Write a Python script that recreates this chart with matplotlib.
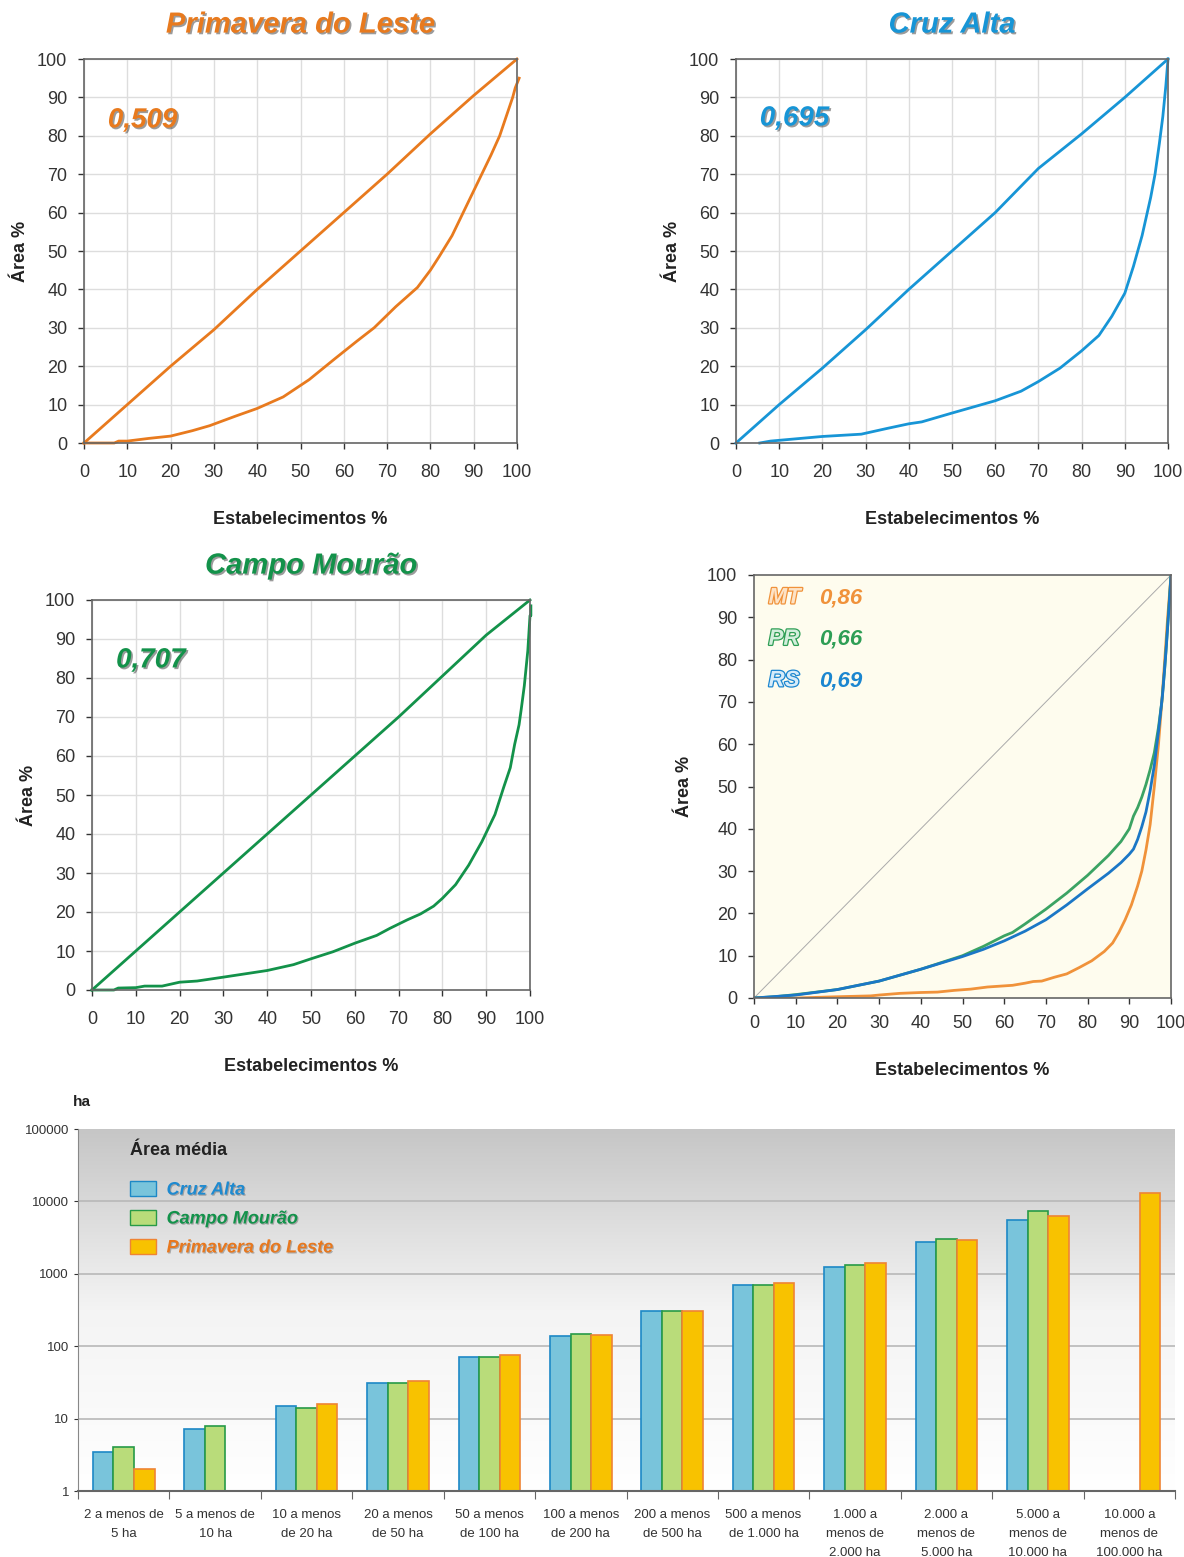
import numpy as np
import matplotlib
matplotlib.use('Agg')
import matplotlib.pyplot as plt
import matplotlib.patheffects as pe
from matplotlib.patches import Patch

plt.rcParams['font.family'] = ['Liberation Sans', 'DejaVu Sans']

# Lorenz curves (x = estabelecimentos %, y = area %)
pl_eq_x = [0, 10, 20, 30, 40, 50, 60, 70, 80, 90, 100]
pl_eq_y = [0, 10, 20, 29.5, 40, 50, 60, 70, 80.5, 90.5, 100]
pl_x = [0, 2, 7, 8, 10, 15, 20, 25, 29, 35, 40, 46, 52, 58, 63, 67, 72, 77, 80, 82, 85, 88, 91,
        94, 96, 97.5, 99, 99.6, 100.5]
pl_y = [0, 0, 0, 0.5, 0.5, 1.2, 1.8, 3.2, 4.5, 7, 9, 12, 16.5, 22, 26.5, 30, 35.5, 40.5, 45,
        48.5, 54, 61, 68, 75, 80, 85, 90, 92.5, 95]

ca_eq_x = [0, 10, 20, 30, 40, 50, 60, 70, 80, 90, 100]
ca_eq_y = [0, 10, 19.5, 29.5, 40, 50, 60, 71.5, 80.5, 90, 100]
ca_x = [5.5, 8, 10, 20, 29, 35, 40, 43, 50, 60, 66, 70, 75, 80, 84, 87, 90, 92, 94, 96, 97,
        98, 98.8, 99.5, 100]
ca_y = [0, 0.5, 0.7, 1.7, 2.3, 3.8, 5, 5.5, 7.8, 11, 13.5, 16, 19.5, 24, 28, 33, 39, 46, 54,
        64, 70, 78, 85, 93, 100]

cm_eq_x = [0, 10, 20, 30, 40, 50, 60, 70, 80, 90, 100]
cm_eq_y = [0, 10, 20, 30, 40, 50, 60, 70, 80.5, 91, 100]
cm_x = [0, 2, 5, 6, 10, 12, 16, 20, 24, 30, 40, 46, 50, 55, 60, 65, 68, 72, 75, 78, 80, 83,
        86, 89, 92, 94, 95.5, 96.5, 97.5, 98, 98.7, 99.5, 100, 100.2, 100.2]
cm_y = [0, 0, 0, 0.5, 0.6, 1, 1, 2, 2.3, 3.3, 5, 6.5, 8, 9.8, 12, 14, 15.8, 18, 19.5, 21.5,
        23.5, 27, 32, 38, 45, 52, 57, 63, 68, 72, 78, 87, 96, 96, 98.5]

mt_x = [0, 10, 20, 28, 30, 35, 40, 44, 48, 52, 56, 62, 65, 67, 69, 72, 75, 78, 81, 84, 86,
        87.5, 89, 90.5, 92, 93, 94, 95, 96, 97, 97.8, 98.5, 99.2, 100]
mt_y = [0, 0, 0.3, 0.5, 0.7, 1.1, 1.3, 1.4, 1.8, 2.1, 2.6, 3, 3.5, 3.9, 4, 4.9, 5.7, 7.2,
        8.8, 11, 13, 15.5, 18.5, 22, 26.5, 30, 35, 41, 50, 60, 70, 80, 90, 100]
pr_x = [0, 5, 10, 20, 30, 40, 50, 55, 60, 62, 65, 70, 75, 80, 85, 88, 90, 91, 92, 93, 94,
        95, 96, 97, 97.8, 98.5, 99.2, 100]
pr_y = [0, 0.3, 0.8, 2, 4, 6.8, 10, 12.2, 14.7, 15.5, 17.5, 21, 24.8, 29, 33.7, 37, 40, 43,
        45, 47.5, 50.5, 54, 58, 64, 70, 78, 88, 100]
rs_x = [0, 10, 20, 30, 40, 50, 55, 60, 65, 70, 75, 80, 85, 88, 90, 91, 92, 93, 94, 95, 96,
        97, 98, 98.8, 99.5, 100]
rs_y = [0, 0.7, 2, 4, 6.8, 9.8, 11.5, 13.5, 15.8, 18.5, 22, 25.8, 29.5, 32, 34, 35.2, 37.5,
        40.5, 44, 49, 55, 63, 72, 82, 92, 100]

# Area media per size class (ha)
classes = ['2 a menos de\n5 ha', '5 a menos de\n10 ha', '10 a menos\nde 20 ha',
           '20 a menos\nde 50 ha', '50 a menos\nde 100 ha', '100 a menos\nde 200 ha',
           '200 a menos\nde 500 ha', '500 a menos\nde 1.000 ha', '1.000 a\nmenos de\n2.000 ha',
           '2.000 a\nmenos de\n5.000 ha', '5.000 a\nmenos de\n10.000 ha',
           '10.000 a\nmenos de\n100.000 ha']
cruz_alta = [3.45, 7.2, 14.9, 31, 70, 138, 305, 700, 1240, 2750, 5550, np.nan]
campo_mourao = [4.05, 7.9, 14.0, 31, 70, 146, 305, 700, 1320, 3030, 7400, np.nan]
primavera = [2.0, np.nan, 15.9, 33, 76, 144, 305, 750, 1410, 2930, 6300, 13000]

W, H = 1184, 1557
fig = plt.figure(figsize=(W / 100, H / 100), dpi=100)


def box(l, t, r, b):
    return [l / W, 1 - b / H, (r - l) / W, (b - t) / H]


def shadow_fx(off=1.2, alpha=0.45):
    return [pe.withSimplePatchShadow(offset=(off, -off), shadow_rgbFace='#222222', alpha=alpha)]


def lorenz_axes(rect, title, color, gini, eq, curve, gx, gy):
    ax = fig.add_axes(rect)
    ax.set_xlim(0, 100)
    ax.set_ylim(0, 100)
    ax.set_xticks(range(0, 101, 10))
    ax.set_yticks(range(0, 101, 10))
    ax.grid(True, color='#dddddd', lw=1)
    ax.set_axisbelow(True)
    for s in ax.spines.values():
        s.set_color('#666666')
        s.set_linewidth(1.2)
    ax.tick_params(labelsize=13, colors='#333333', length=4, width=1, pad=8)
    ax.tick_params(axis='x', pad=11)
    ax.plot(eq[0], eq[1], color=color, lw=2, clip_on=False)
    ax.plot(curve[0], curve[1], color=color, lw=2, clip_on=False)
    ax.set_xlabel('Estabelecimentos %', fontsize=13, fontweight='bold', color='#222222',
                  labelpad=22)
    ax.set_ylabel('Área %', fontsize=13, fontweight='bold', color='#222222', labelpad=6)
    ax.set_title(title, fontsize=21, fontweight='bold', style='italic', color=color, pad=19,
                 path_effects=shadow_fx())
    ax.text(gx, gy, gini, fontsize=20, fontweight='bold', style='italic', color=color,
            va='center', path_effects=shadow_fx())
    return ax


lorenz_axes(box(84, 59, 517, 443), 'Primavera do Leste', '#E87A1E', '0,509',
            (pl_eq_x, pl_eq_y), (pl_x, pl_y), 5.5, 84)
lorenz_axes(box(736, 59, 1168, 443), 'Cruz Alta', '#1795D6', '0,695',
            (ca_eq_x, ca_eq_y), (ca_x, ca_y), 5.5, 84.5)
lorenz_axes(box(92, 600, 530, 990), 'Campo Mourão', '#13924A', '0,707',
            (cm_eq_x, cm_eq_y), (cm_x, cm_y), 5.5, 84.5)

# combined panel
ax4 = fig.add_axes(box(754, 575, 1171, 998))
ax4.set_facecolor('#FEFCEE')
ax4.set_xlim(0, 100)
ax4.set_ylim(0, 100)
ax4.set_xticks(range(0, 101, 10))
ax4.set_yticks(range(0, 101, 10))
for s in ax4.spines.values():
    s.set_color('#666666')
    s.set_linewidth(1.2)
ax4.tick_params(labelsize=13, colors='#333333', length=4, width=1, pad=8)
ax4.plot([0, 100], [0, 100], color='#aaaaaa', lw=0.7)
ax4.plot(mt_x, mt_y, color='#F0923A', lw=2)
ax4.plot(pr_x, pr_y, color='#3BA363', lw=2)
ax4.plot(rs_x, rs_y, color='#1B77C6', lw=2)
ax4.set_xlabel('Estabelecimentos %', fontsize=13, fontweight='bold', color='#222222',
               labelpad=22)
ax4.set_ylabel('Área %', fontsize=13, fontweight='bold', color='#222222', labelpad=10)
for lab, val, col, light, yy in [('MT', '0,86', '#F0923A', '#FDE3C6', 94.6),
                                 ('PR', '0,66', '#2E9E55', '#D3EEDC', 84.8),
                                 ('RS', '0,69', '#1B86D0', '#D6ECFA', 75)]:
    ax4.text(3.5, yy, lab, fontsize=16, fontweight='bold', style='italic', color=light,
             va='center', path_effects=[pe.Stroke(linewidth=1.8, foreground=col), pe.Normal()])
    ax4.text(15.5, yy, val, fontsize=16, fontweight='bold', style='italic', color=col,
             va='center')

# bar chart
axb = fig.add_axes(box(78, 1129, 1175, 1491))
axb.set_yscale('log')
axb.set_ylim(1, 1e5)
axb.set_xlim(0, len(classes))
grad = np.linspace(0, 1, 256).reshape(-1, 1)
axb.imshow(grad, cmap=plt.matplotlib.colors.LinearSegmentedColormap.from_list(
    'g', ['#ffffff', '#f4f4f4', '#c6c6c6']), aspect='auto', extent=[0, 1, 0, 1],
    transform=axb.transAxes, origin='lower', zorder=0)
for v in [10, 100, 1000, 10000]:
    axb.axhline(v, color='#b8b8b8', lw=1.2, zorder=1)
x = np.arange(len(classes)) + 0.5
bw = 0.225
axb.bar(x - bw, cruz_alta, bw, color='#79C4DB', edgecolor='#1D88C6', lw=1.2, zorder=2)
axb.bar(x, campo_mourao, bw, color='#B9DC7A', edgecolor='#279A47', lw=1.2, zorder=2)
axb.bar(x + bw, primavera, bw, color='#F8C200', edgecolor='#EF8434', lw=1.2, zorder=2)
axb.set_ylim(1, 1e5)
axb.set_yticks([1, 10, 100, 1000, 10000, 100000])
axb.set_yticklabels(['1', '10', '100', '1000', '10000', '100000'])
axb.yaxis.set_minor_locator(matplotlib.ticker.NullLocator())
axb.set_xticks(np.arange(len(classes) + 1))
axb.set_xticklabels([])
axb.set_xticks(x, minor=True)
axb.set_xticklabels(classes, minor=True, fontsize=9.5, color='#333333', linespacing=1.75)
axb.tick_params(axis='x', which='minor', length=0, pad=13)
axb.tick_params(axis='x', which='major', length=6, color='#666666')
axb.tick_params(axis='y', labelsize=9.5, colors='#333333', length=3)
for side in ['top', 'right']:
    axb.spines[side].set_visible(False)
axb.spines['left'].set_color('#888888')
axb.spines['bottom'].set_color('#666666')
axb.spines['bottom'].set_linewidth(1.5)
fig.text(73 / W, 1 - 1102 / H, 'ha', fontsize=11, fontweight='bold', color='#222222',
         va='center')

handles = [Patch(facecolor='#79C4DB', edgecolor='#1D88C6'),
           Patch(facecolor='#B9DC7A', edgecolor='#279A47'),
           Patch(facecolor='#F8C200', edgecolor='#EF8434')]
leg = axb.legend(handles, ['Cruz Alta', 'Campo Mourão', 'Primavera do Leste'],
                 loc='upper left', bbox_to_anchor=(0.033, 1.01), frameon=False,
                 title='Área média', fontsize=13, handlelength=1.4, handleheight=0.9,
                 labelspacing=0.62, handletextpad=0.6)
leg.get_title().set_fontsize(13)
leg.get_title().set_fontweight('bold')
leg.get_title().set_color('#222222')
leg._legend_box.align = 'left'
leg._legend_box.sep = 16
for t, c in zip(leg.get_texts(), ['#1E8AD0', '#12924A', '#E8781E']):
    t.set_color(c)
    t.set_fontweight('bold')
    t.set_fontstyle('italic')
    t.set_path_effects(shadow_fx(0.8, 0.3))

fig.savefig('out.png', dpi=100)
